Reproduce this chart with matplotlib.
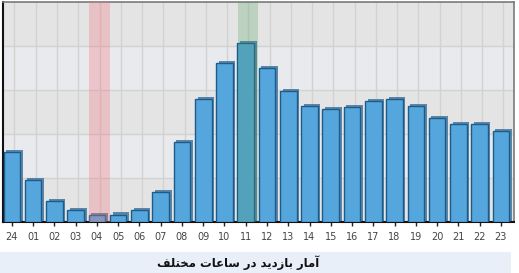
import matplotlib
matplotlib.use("Agg")
import matplotlib.pyplot as plt
from matplotlib.patches import Rectangle

hours = ["24", "01", "02", "03", "04", "05", "06", "07", "08", "09", "10", "11",
         "12", "13", "14", "15", "16", "17", "18", "19", "20", "21", "22", "23"]
visits = [70, 42, 21, 12, 7, 7.5, 12, 30, 80, 123, 159, 179,
          154, 131, 116, 113, 115, 121, 123, 116, 104, 98, 98, 91]
low_hour = "04"
peak_hour = "11"

# Persian title, shaped with presentation forms (logical order), reversed for display
title_logical = "\uFE81\uFEE3\uFE8E\uFEAD \uFE91\uFE8E\uFEAF\uFEA9\uFBFE\uFEAA \uFEA9\uFEAD \uFEB3\uFE8E\uFECB\uFE8E\uFE95 \uFEE3\uFEA8\uFE98\uFEE0\uFED2"
title_text = title_logical[::-1]

W, H = 519, 273
fig = plt.figure(figsize=(W / 100, H / 100), dpi=100)
fig.patch.set_facecolor("white")

# title band
fig.patches.append(Rectangle((0, 0), 511 / W, 21 / H, transform=fig.transFigure,
                             facecolor="#e9eff9", edgecolor="none", zorder=0))
fig.text(238 / W, 10 / H, title_text, ha="center", va="center", fontsize=8.4,
         fontweight="bold", color="#111111", family=["DejaVu Sans"])

ax = fig.add_axes([3 / W, 51 / H, 511 / W, 220 / H])
ax.set_xlim(-0.42, 23.62)
ax.set_ylim(0, 220)
ax.set_facecolor("#e4e4e4")

# alternating bands
for i, y0 in enumerate(range(0, 220, 44)):
    ax.axhspan(y0, y0 + 44, color="#e4e4e4" if i % 2 == 0 else "#e8eaed", zorder=0, lw=0)

for y in range(44, 220, 44):
    ax.axhline(y, color="#d2d2d2", lw=1, zorder=1)
for i in range(len(hours)):
    ax.axvline(i + 0.12, color="#d2d2d2", lw=1, zorder=1)

x = list(range(len(hours)))
dx = 2.6 / 21.25
ax.bar([v + dx for v in x], [v + 2.5 for v in visits], width=0.78, color="#3a6f98",
       alpha=0.8, zorder=2, lw=0)
ax.bar(x, visits, width=0.78, color="#55a6dc", edgecolor="#1d5c8a", lw=1.0, zorder=3)

li = hours.index(low_hour)
pi = hours.index(peak_hour)
ax.axvspan(li + 0.12 - 0.5, li + 0.12 + 0.48, color="#f4707c", alpha=0.3, lw=0, zorder=4)
ax.axvspan(pi + 0.12 - 0.5, pi + 0.12 + 0.46, color="#4a9a5a", alpha=0.25, lw=0, zorder=4)

ax.set_xticks(x)
ax.set_xticklabels(hours, fontsize=7, color="#444444")
ax.set_yticks([])
ax.tick_params(axis="x", length=3, width=1, color="#222222", pad=4)

for s in ["left", "bottom"]:
    ax.spines[s].set_color("#111111")
    ax.spines[s].set_linewidth(1.5)
for s in ["top", "right"]:
    ax.spines[s].set_color("#7a7a7a")
    ax.spines[s].set_linewidth(1.2)

fig.savefig("out.png", dpi=100)
